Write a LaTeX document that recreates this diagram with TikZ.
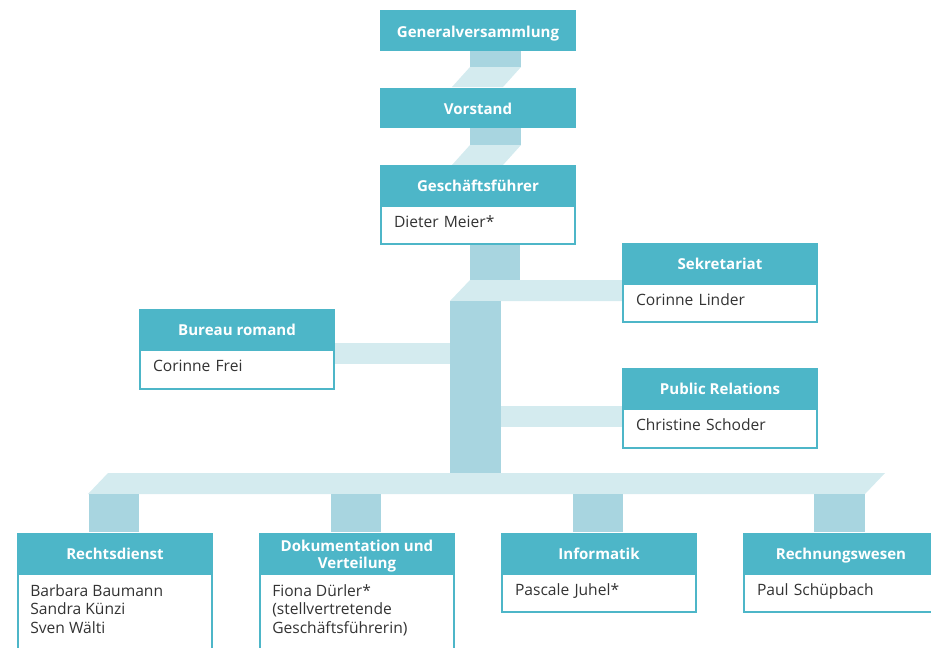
\documentclass[tikz,border=0pt]{standalone}
\usepackage{fontspec}
\setmainfont{Open Sans}
\usetikzlibrary{calc}
\definecolor{headc}{HTML}{4DB6C8}
\definecolor{darkc}{HTML}{A8D5E0}
\definecolor{lightc}{HTML}{D4EBEF}
\definecolor{txtc}{HTML}{333333}
\begin{document}
\begin{tikzpicture}[x=0.75pt,y=-0.75pt,
  headbase/.style={fill=headc, draw=headc, line width=1.5pt, text=white,
    font=\bfseries\fontsize{11.3}{12.75}\selectfont, minimum width=145.5pt,
    minimum height=28.5pt, inner sep=0pt, anchor=north west, align=center},
  head/.style={headbase, text height=10.5pt, text depth=0.5pt},
  body/.style={fill=white, draw=headc, line width=1.5pt, text=txtc,
    font=\fontsize{11.7}{14}\selectfont, minimum width=145.5pt, text width=126pt,
    text height=7pt, text depth=4pt, minimum height=28.5pt,
    inner xsep=9.75pt, inner ysep=0pt, anchor=north west, align=left},
  box/.style={fill=white, draw=headc, line width=1.5pt, minimum width=145.5pt,
    inner sep=0pt, anchor=north west},
  btext/.style={text=txtc, font=\fontsize{11.7}{13.9}\selectfont, inner sep=0pt,
    anchor=north west, align=left},
  darkband/.style={fill=darkc},
  lightband/.style={fill=lightc}]
\useasboundingbox (0,0) rectangle (931,647);
\clip (0,0) rectangle (931,647);

% ---- connectors (bands)
\fill[darkband] (470,50) rectangle (521,67);
\fill[lightband] (470,67) -- (521,67) -- (503,87) -- (452,87) -- cycle;
\fill[darkband] (470,127) rectangle (521,145);
\fill[lightband] (470,145) -- (521,145) -- (503,165) -- (452,165) -- cycle;
\fill[darkband] (470,242) rectangle (520,280);
\fill[lightband] (470,280) -- (622,280) -- (622,301) -- (450,301) -- cycle;
\fill[darkband] (450,301) rectangle (501,473);
\fill[lightband] (333,343) rectangle (450,364);
\fill[lightband] (501,406) rectangle (622,427);
\fill[lightband] (108,473) -- (885,473) -- (865,494) -- (88,494) -- cycle;
\fill[darkband] (89,494) rectangle (139,532);
\fill[darkband] (331,494) rectangle (381,532);
\fill[darkband] (573,494) rectangle (623,532);
\fill[darkband] (814,494) rectangle (865,532);

% ---- top chain
\node[head, minimum height=29.25pt] (gv) at (380,10) {Generalversammlung};
\node[head] (vs) at (380,88) {Vorstand};
\node[head] (gf) at (380,165) {Geschäftsführer};
\node[body] (gfb) at (gf.south west) {Dieter Meier*};

% ---- side boxes
\node[head] (sek) at (622,243) {Sekretariat};
\node[body] (sekb) at (sek.south west) {Corinne Linder};
\node[head] (pr) at (622,368) {Public Relations};
\node[body, minimum height=29.25pt] (prb) at (pr.south west) {Christine Schoder};
\node[head] (br) at (139,309) {Bureau romand};
\node[body, minimum height=29.25pt] (brb) at (br.south west) {Corinne Frei};

% ---- bottom row
\node[head] (rd) at (17,533) {Rechtsdienst};
\node[box, minimum height=75pt] (rdb) at (rd.south west) {};
\node[btext] (rdt) at ($(rdb.north west)+(13,11)$) {Barbara Baumann\\Sandra Künzi\\Sven Wälti};
\node[headbase] (dv) at (259,533) {\raisebox{-5pt}[0pt][0pt]{\parbox{145pt}{\centering Dokumentation und\\Verteilung}}};
\node[box, minimum height=75pt] (dvb) at (dv.south west) {};
\node[btext] (dvt) at ($(dvb.north west)+(13,11)$) {Fiona Dürler*\\(stellvertretende\\Geschäftsführerin)};
\node[head] (inf) at (501,533) {Informatik};
\node[body] (infb) at (inf.south west) {Pascale Juhel*};
\node[head] (rw) at (743,533) {Rechnungswesen};
\node[body] (rwb) at (rw.south west) {Paul Schüpbach};
\end{tikzpicture}
\end{document}
